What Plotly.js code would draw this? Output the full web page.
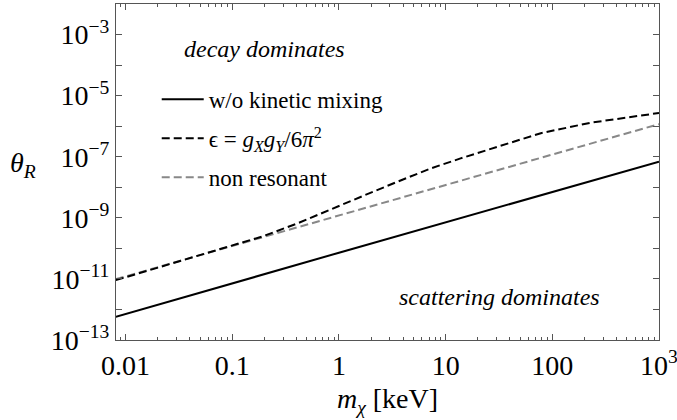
<!DOCTYPE html>
<html>
<head>
<meta charset="utf-8">
<script src="https://cdn.plot.ly/plotly-3.0.1.min.js"></script>
<style>html,body{margin:0;padding:0;background:#fff;}#plot{width:677px;height:420px;}</style>
</head>
<body>
<div id="plot"></div>
<script>
// m_chi in keV, theta_R values
const massSolid = [0.0081, 1, 1000];
const thetaSolid = [5.7e-13, 7.2e-11, 6.9e-8];

const massKin = [0.0081, 0.0316, 0.1, 0.195, 0.41, 0.83, 1.7, 3.5, 7.2, 13.8, 26, 78, 229, 676, 1000];
const thetaKin = [9.1e-12, 3.7e-11, 1.2e-10, 2.5e-10, 6.6e-10, 1.9e-9, 5.3e-9, 1.5e-8, 4.1e-8, 8.8e-8, 1.8e-7, 5.9e-7, 1.3e-6, 2.3e-6, 2.7e-6];

const massNR = [0.0081, 0.1, 1, 78, 1000];
const thetaNR = [9.8e-12, 1.2e-10, 1.2e-9, 9.3e-8, 1.17e-6];

const seriesNames = ['w/o kinetic mixing', 'ϵ = <i>g</i><sub><i>X</i></sub><i>g</i><sub><i>Y</i></sub>/6<i>π</i><sup>2</sup>', 'non resonant'];

const xTickVals = [0.01, 0.1, 1, 10, 100, 1000];
const xTickText = ['0.01', '0.1', '1', '10', '100', '10<sup>3</sup>'];
const yTickVals = [1e-13, 1e-11, 1e-9, 1e-7, 1e-5, 1e-3];
const yTickText = ['10<sup>−13</sup>', '10<sup>−11</sup>', '10<sup>−9</sup>', '10<sup>−7</sup>', '10<sup>−5</sup>', '10<sup>−3</sup>'];
const yMinorVals = [1e-12, 1e-10, 1e-8, 1e-6, 1e-4, 1e-2];

const xMinor = [];
[0.001, 0.01, 0.1, 1, 10, 100].forEach(d => { for (let k = 2; k <= 9; k++) xMinor.push(d * k); });

const FONT = '"Liberation Serif", "Times New Roman", serif';

const traces = [
  {x: massNR, y: thetaNR, mode: 'lines', name: seriesNames[2], legendgroup: 'c', line: {color: '#888888', width: 2, dash: '8px,4px'}, legendrank: 3},
  {x: massKin, y: thetaKin, mode: 'lines', name: seriesNames[1], legendgroup: 'b', line: {color: '#000000', width: 2, dash: '8px,4px'}, legendrank: 2},
  {x: massSolid, y: thetaSolid, mode: 'lines', name: seriesNames[0], legendgroup: 'a', line: {color: '#000000', width: 2}, legendrank: 1}
];

const axisCommon = {
  type: 'log', showgrid: false, zeroline: false, showline: true, linecolor: '#555', linewidth: 1,
  mirror: 'ticks', ticks: 'inside', ticklen: 6, tickcolor: '#555', tickwidth: 1,
  ticklabeloverflow: 'allow',
  tickfont: {family: FONT, size: 28, color: '#000'}
};

const layout = {
  width: 677, height: 420,
  margin: {l: 116, r: 18, t: 4, b: 80},
  paper_bgcolor: '#fff', plot_bgcolor: '#fff',
  font: {family: FONT, size: 23, color: '#000'},
  showlegend: true,
  legend: {x: 0.075, y: 0.78, xanchor: 'left', yanchor: 'top', bgcolor: 'rgba(0,0,0,0)', font: {family: FONT, size: 23}, itemwidth: 42, tracegroupgap: 6},
  xaxis: Object.assign({}, axisCommon, {
    range: [-2.09, 3], tickmode: 'array', tickvals: xTickVals, ticktext: xTickText,
    minor: {tickmode: 'array', tickvals: xMinor, ticks: 'inside', ticklen: 3, tickcolor: '#555'},
    title: {text: '<i>m</i><sub><i>χ</i></sub> [keV]', font: {family: FONT, size: 28}, standoff: 8}
  }),
  yaxis: Object.assign({}, axisCommon, {
    range: [-13, -2], tickmode: 'array', tickvals: yTickVals, ticktext: yTickText,
    minor: {tickmode: 'array', tickvals: yMinorVals, ticks: 'inside', ticklen: 6, tickcolor: '#555'}
  }),
  annotations: [
    {xref: 'paper', yref: 'paper', x: -0.171, y: 0.522, text: '<i>θ</i><sub><i>R</i></sub>', showarrow: false, font: {family: FONT, size: 28}, xanchor: 'center', yanchor: 'middle'},
    {xref: 'paper', yref: 'paper', x: 0.274, y: 0.865, text: '<i>decay dominates</i>', showarrow: false, font: {family: FONT, size: 24}, xanchor: 'center', yanchor: 'middle'},
    {xref: 'paper', yref: 'paper', x: 0.707, y: 0.129, text: '<i>scattering dominates</i>', showarrow: false, font: {family: FONT, size: 24}, xanchor: 'center', yanchor: 'middle'}
  ]
};

Plotly.newPlot('plot', traces, layout, {staticPlot: true, displayModeBar: false});
</script>
</body>
</html>
